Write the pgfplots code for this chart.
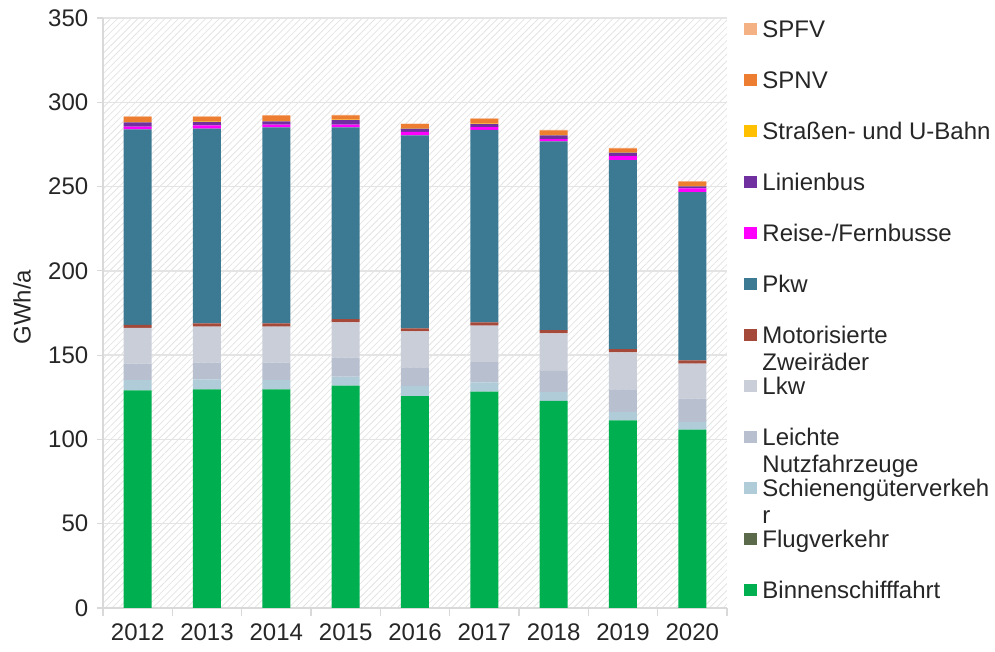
\documentclass[border=0pt]{standalone}
\usepackage{pgfplots}
\pgfplotsset{compat=1.18}
\usepackage{pgfplotstable}
\usepackage{fontspec}
\setmainfont{Liberation Sans}
\usetikzlibrary{patterns.meta}
\definecolor{cSPFV}{HTML}{F4B183}
\definecolor{cSPNV}{HTML}{ED7D31}
\definecolor{cStr}{HTML}{FFC000}
\definecolor{cLin}{HTML}{7030A0}
\definecolor{cReise}{HTML}{FF00FF}
\definecolor{cPkw}{HTML}{3C7A93}
\definecolor{cMot}{HTML}{A5493A}
\definecolor{cLkw}{HTML}{CACED9}
\definecolor{cLNF}{HTML}{B8BFCF}
\definecolor{cSGV}{HTML}{B0CCD8}
\definecolor{cFlug}{HTML}{5B6A4B}
\definecolor{cBin}{HTML}{00B050}
\definecolor{axgray}{HTML}{D9D9D9}
\definecolor{gridgray}{HTML}{E4E4E4}
\definecolor{txt}{HTML}{262626}

\pgfplotstableread{
x Bin Flug SGV LNF Lkw Mot Pkw Reise Lin Str SPNV SPFV
0 129.1 0 6.1 9.7 21.2 1.8 116.0 1.6 2.6 0.3 3.0 0.3
1 129.7 0 5.9 9.9 21.4 2.0 115.4 2.0 2.0 0.3 2.8 0.3
2 129.7 0 5.5 10.3 21.4 2.0 116.2 1.6 1.9 0.3 3.0 0.5
3 131.9 0 5.3 11.3 20.9 2.0 113.7 1.6 2.7 0.3 2.5 0.3
4 125.7 0 6.0 11.1 21.3 1.8 114.5 2.1 1.8 0.3 2.5 0.3
5 128.4 0 5.5 12.0 21.6 1.9 114.3 1.6 1.8 0.3 2.7 0.3
6 122.8 0 5.3 12.5 22.3 2.0 111.9 1.4 2.2 0.3 2.7 0.3
7 111.3 0 5.1 13.3 22.0 1.9 112.1 2.4 2.0 0.3 2.2 0.3
8 105.8 0 4.5 13.9 20.7 2.0 99.8 2.2 1.2 0.3 2.6 0.3
}\data

\newcommand{\two}[2]{\smash{\begin{tabular}[t]{@{}l@{}}#1\\#2\end{tabular}}}

\begin{document}
\begin{tikzpicture}
\useasboundingbox (0,0) rectangle (746.25pt,489pt);
\begin{axis}[
  at={(77.25pt,33pt)}, anchor=south west,
  scale only axis, width=468pt, height=442.5pt,
  ybar stacked, bar width=21pt,
  xmin=-0.5, xmax=8.5, ymin=0, ymax=350,
  xtick={0,...,8},
  xticklabels={2012,2013,2014,2015,2016,2017,2018,2019,2020},
  minor xtick={-0.5,0.5,...,8.5},
  ytick={0,50,...,350},
  major x tick style={draw=none},
  minor tick length=6pt,
  major tick length=4.5pt,
  tick align=outside,
  tick pos=left,
  every tick/.style={axgray, line width=0.8pt},
  axis x line*=bottom, axis y line*=left,
  axis line style={axgray, line width=1pt},
  ymajorgrids, grid style={gridgray, line width=1pt},
  axis background/.style={pattern={Lines[angle=45,distance=3.6pt,line width=0.6pt]}, pattern color=black!11},
  /pgf/number format/assume math mode=true,
  tick label style={font=\fontsize{18}{20}\selectfont, text=txt},
  xticklabel style={yshift=-4pt},
  yticklabel style={xshift=-3pt},
  ylabel={GWh/a},
  every axis y label/.style={at={(axis description cs:0,0.51)}, xshift=-60.75pt, rotate=90, anchor=center, font=\fontsize{18}{20}\selectfont, text=txt},
  reverse legend,
  legend cell align=left,
  legend image code/.code={\fill[#1] (0pt,1.5pt) rectangle (9.75pt,10.5pt);},
  legend style={at={(1.027,1.0107)}, anchor=north west, draw=none, fill=none,
    inner sep=0pt, row sep=0pt, column sep=4pt,
    font=\fontsize{18}{20.25}\selectfont, text=txt,
    nodes={inner sep=0pt, text height=19pt, text depth=19.25pt, anchor=base west}},
  every axis plot/.append style={draw=none},
]
\addplot[fill=cBin] table[x=x,y=Bin]{\data};
\addlegendentry{Binnenschifffahrt}
\addplot[fill=cFlug] table[x=x,y=Flug]{\data};
\addlegendentry{Flugverkehr}
\addplot[fill=cSGV] table[x=x,y=SGV]{\data};
\addlegendentry{\two{Schienengüterverkeh}{r}}
\addplot[fill=cLNF] table[x=x,y=LNF]{\data};
\addlegendentry{\two{Leichte}{Nutzfahrzeuge}}
\addplot[fill=cLkw] table[x=x,y=Lkw]{\data};
\addlegendentry{Lkw}
\addplot[fill=cMot] table[x=x,y=Mot]{\data};
\addlegendentry{\two{Motorisierte}{Zweiräder}}
\addplot[fill=cPkw] table[x=x,y=Pkw]{\data};
\addlegendentry{Pkw}
\addplot[fill=cReise] table[x=x,y=Reise]{\data};
\addlegendentry{Reise-/Fernbusse}
\addplot[fill=cLin] table[x=x,y=Lin]{\data};
\addlegendentry{Linienbus}
\addplot[fill=cStr] table[x=x,y=Str]{\data};
\addlegendentry{Straßen- und U-Bahn}
\addplot[fill=cSPNV] table[x=x,y=SPNV]{\data};
\addlegendentry{SPNV}
\addplot[fill=cSPFV] table[x=x,y=SPFV]{\data};
\addlegendentry{SPFV}
\end{axis}
\end{tikzpicture}
\end{document}
